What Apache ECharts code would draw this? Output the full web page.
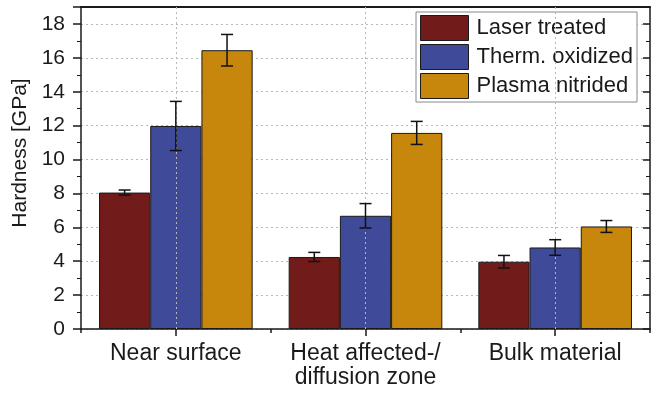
<!DOCTYPE html>
<html>
<head>
<meta charset="utf-8">
<script src="https://cdn.jsdelivr.net/npm/echarts@6/dist/echarts.min.js"></script>
<style>
html,body{margin:0;padding:0;background:#fff;}
#chart{width:653px;height:396px;}
</style>
</head>
<body>
<div id="chart"></div>
<script>
// ---- data ----
var categories = ['Near surface', 'Heat affected-/\ndiffusion zone', 'Bulk material'];
var seriesNames = ['Laser treated', 'Therm. oxidized', 'Plasma nitrided'];
var laserVals = [8.05, 4.25, 3.97];
var laserErr = [0.15, 0.27, 0.37];
var thermVals = [11.98, 6.68, 4.81];
var thermErr = [1.45, 0.72, 0.46];
var plasmaVals = [16.45, 11.57, 6.05];
var plasmaErr = [0.93, 0.68, 0.35];
var yTicks = [0, 2, 4, 6, 8, 10, 12, 14, 16, 18];

var colors = ['#721b1b', '#3f4a98', '#c6870c'];
var FONT = '"Liberation Sans", Arial, sans-serif';
var catGap = 0.19;

var chart = echarts.init(document.getElementById('chart'));

var vals = [laserVals, thermVals, plasmaVals];
var errs = [laserErr, thermErr, plasmaErr];

var series = [];
// vertical grid lines at category centres (behind bars)
series.push({
  type: 'line',
  xAxisIndex: 0,
  yAxisIndex: 0,
  data: [],
  z: 1,
  silent: true,
  markLine: {
    silent: true,
    symbol: 'none',
    label: { show: false },
    lineStyle: { color: '#b8b8b8', width: 1, type: [2, 3] },
    data: categories.map(function (c) { return { xAxis: c }; })
  }
});
for (var s = 0; s < 3; s++) {
  series.push({
    name: seriesNames[s],
    type: 'bar',
    xAxisIndex: 0,
    yAxisIndex: 0,
    data: vals[s],
    barGap: '0%',
    barCategoryGap: (catGap * 100) + '%',
    itemStyle: { color: colors[s], borderColor: '#1a1a1a', borderWidth: 1 },
    z: 3
  });
}
for (var s2 = 0; s2 < 3; s2++) {
  (function (si) {
    var data = vals[si].map(function (v, i) { return [i, v, errs[si][i]]; });
    series.push({
      type: 'custom',
      xAxisIndex: 0,
      yAxisIndex: 0,
      data: data,
      z: 5,
      silent: true,
      renderItem: function (params, api) {
        var idx = api.value(0);
        var v = api.value(1), e = api.value(2);
        var band = api.size([1, 0])[0];
        var bw = band * (1 - catGap) / 3;
        var off = (si - 1) * bw;
        var top = api.coord([idx, v + e]);
        var bot = api.coord([idx, v - e]);
        var x = top[0] + off;
        var cap = 6;
        var st = { stroke: '#111', lineWidth: 1.5 };
        return {
          type: 'group',
          children: [
            { type: 'line', shape: { x1: x, y1: top[1], x2: x, y2: bot[1] }, style: st },
            { type: 'line', shape: { x1: x - cap, y1: top[1], x2: x + cap, y2: top[1] }, style: st },
            { type: 'line', shape: { x1: x - cap, y1: bot[1], x2: x + cap, y2: bot[1] }, style: st }
          ]
        };
      }
    });
  })(s2);
}

var option = {
  backgroundColor: '#ffffff',
  animation: false,
  color: colors,
  grid: { left: 81, right: 3, top: 7, bottom: 67, containLabel: false },
  legend: {
    orient: 'vertical',
    left: 416,
    top: 12,
    data: seriesNames,
    icon: 'rect',
    itemWidth: 48,
    itemHeight: 25,
    itemGap: 3,
    padding: [3, 4, 3, 4],
    borderColor: '#888',
    borderWidth: 1,
    backgroundColor: '#ffffff',
    textStyle: { fontFamily: FONT, fontSize: 22, color: '#1a1a1a', padding: [0, 0, 0, 3] },
    itemStyle: { borderColor: '#1a1a1a', borderWidth: 1 }
  },
  xAxis: [
    {
      type: 'category',
      data: categories,
      position: 'bottom',
      axisLine: { show: true, lineStyle: { color: '#1a1a1a', width: 1.5 } },
      axisTick: { show: true, inside: false, length: 4, lineStyle: { color: '#1a1a1a', width: 1.5 } },
      axisLabel: { interval: 0, hideOverlap: false, fontFamily: FONT, fontSize: 23, color: '#1a1a1a', margin: 13, lineHeight: 24 },
      splitLine: { show: false }
    },
    {
      type: 'category',
      data: categories,
      position: 'bottom',
      axisLine: { show: false },
      axisTick: { show: true, alignWithLabel: true, length: 7, lineStyle: { color: '#1a1a1a', width: 1.5 } },
      axisLabel: { show: false },
      splitLine: { show: false }
    },
    {
      type: 'category',
      data: categories,
      position: 'top',
      axisLine: { show: true, lineStyle: { color: '#1a1a1a', width: 2 } },
      axisTick: { show: false },
      axisLabel: { show: false },
      splitLine: { show: false }
    }
  ],
  yAxis: [
    {
      type: 'value',
      min: 0,
      max: 19,
      interval: 2,
      position: 'left',
      name: 'Hardness [GPa]',
      nameLocation: 'middle',
      nameGap: 48,
      nameTextStyle: { fontFamily: FONT, fontSize: 21, color: '#1a1a1a', padding: [0, 0, 0, 30] },
      axisLine: { show: true, lineStyle: { color: '#1a1a1a', width: 1.5 } },
      axisTick: { show: true, inside: false, length: 8, lineStyle: { color: '#1a1a1a', width: 1.5 } },
      minorTick: { show: true, splitNumber: 2, length: 4, lineStyle: { color: '#1a1a1a', width: 1 } },
      axisLabel: {
        fontFamily: FONT, fontSize: 21, color: '#1a1a1a', margin: 16,
        showMaxLabel: false,
        formatter: function (v) { return yTicks.indexOf(v) >= 0 ? String(v) : ''; }
      },
      splitLine: { show: true, lineStyle: { color: '#b8b8b8', width: 1, type: [2, 3] } }
    },
    {
      type: 'value',
      min: 0,
      max: 19,
      interval: 2,
      position: 'right',
      axisLine: { show: true, lineStyle: { color: '#1a1a1a', width: 1.5 } },
      axisTick: { show: true, inside: true, length: 7, lineStyle: { color: '#1a1a1a', width: 1.5 } },
      minorTick: { show: true, splitNumber: 2, length: 4, lineStyle: { color: '#1a1a1a', width: 1 } },
      axisLabel: { show: false },
      splitLine: { show: false }
    }
  ],
  series: series
};
chart.setOption(option);
</script>
</body>
</html>
